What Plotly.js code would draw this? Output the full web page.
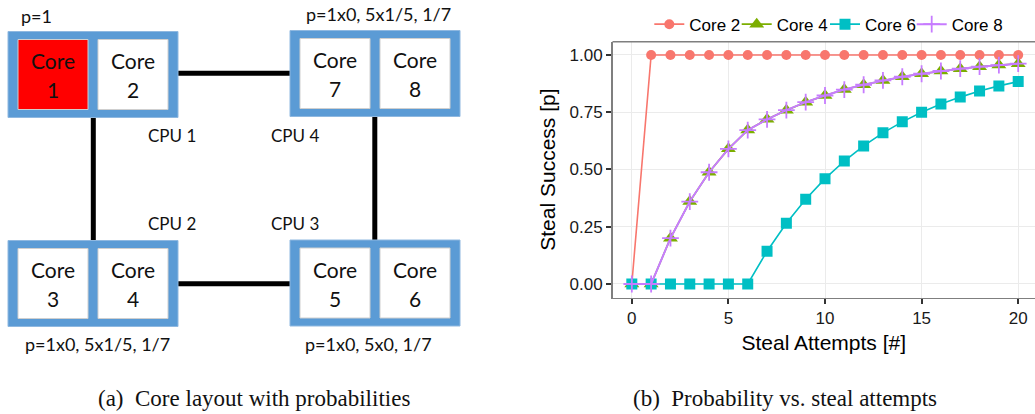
<!DOCTYPE html>
<html>
<head>
<meta charset="utf-8">
<script src="https://cdn.plot.ly/plotly-3.0.1.min.js"></script>
<style>
  html, body { margin: 0; padding: 0; background: #ffffff; }
  #fig { width: 1035px; height: 414px; }
</style>
</head>
<body>
<div id="fig"></div>
<script>
// Steal attempts on the x axis, success probability for each target core.
const attempts = [0, 1, 2, 3, 4, 5, 6, 7, 8, 9, 10, 11, 12, 13, 14, 15, 16, 17, 18, 19, 20];
const core2 = [0, 1, 1, 1, 1, 1, 1, 1, 1, 1, 1, 1, 1, 1, 1, 1, 1, 1, 1, 1, 1];
const core4 = [0, 0, 0.2, 0.36, 0.488, 0.59, 0.672, 0.719, 0.759, 0.794, 0.823, 0.849, 0.87, 0.889, 0.905, 0.918, 0.93, 0.94, 0.949, 0.956, 0.962];
const core6 = [0, 0, 0, 0, 0, 0, 0, 0.143, 0.265, 0.37, 0.46, 0.537, 0.603, 0.66, 0.708, 0.75, 0.786, 0.816, 0.843, 0.865, 0.884];
const core8 = [0, 0, 0.2, 0.36, 0.488, 0.59, 0.672, 0.719, 0.759, 0.794, 0.823, 0.849, 0.87, 0.889, 0.905, 0.918, 0.93, 0.94, 0.949, 0.956, 0.962];
const seriesNames = ['Core 2', 'Core 4', 'Core 6', 'Core 8'];
const yTicks = [0, 0.25, 0.5, 0.75, 1];
const xTicks = [0, 5, 10, 15, 20];

// Topology: four dual-core CPUs and the probability notes next to them.
const cpuNames = ['CPU 1', 'CPU 2', 'CPU 3', 'CPU 4'];
const coreNumbers = [[1, 2], [3, 4], [5, 6], [7, 8]];
const probNotes = ['p=1', 'p=1x0, 5x1/5, 1/7', 'p=1x0, 5x0, 1/7', 'p=1x0, 5x1/5, 1/7'];
const captions = ['(a)  Core layout with probabilities', '(b)  Probability vs. steal attempts'];

// ---- page geometry (pixels, origin top-left) ----
const W = 1035, H = 414;
const px = x => x / W;
const py = y => 1 - y / H;

const cpuBoxes = [          // top-left corner of each CPU package
  { x: 8,   y: 31.5 },       // CPU 1
  { x: 8,   y: 240.5 },      // CPU 2
  { x: 290, y: 240 },        // CPU 3
  { x: 290, y: 30.5 }        // CPU 4
];
const cpuLabelPos = [[171.5, 135], [171.5, 223.5], [295, 223.5], [295, 135]];
const notePos = [[36, 16], [97, 343.5], [368.5, 343.5], [378.5, 14]];
const BOX_W = 170, BOX_H = 86, CORE = 70, PAD_X = 10, PAD_Y = 8, GAP = 10;

const BLUE = '#5B9BD5';
const diagFont = 'Lato, "Noto Sans", sans-serif';

const shapes = [];
const annotations = [];

// Interconnect links (drawn first so the packages sit on top).
const links = [
  [175, 73.3, 292.5, 73.3],
  [175, 283.7, 292.5, 283.7],
  [93.3, 116, 93.3, 241],
  [374.8, 114, 374.8, 241]
];
links.forEach(([x0, y0, x1, y1]) => {
  shapes.push({ type: 'line', xref: 'paper', yref: 'paper',
    x0: px(x0), y0: py(y0), x1: px(x1), y1: py(y1),
    line: { color: '#000000', width: 5 } });
});

cpuBoxes.forEach((b, i) => {
  shapes.push({ type: 'rect', xref: 'paper', yref: 'paper',
    x0: px(b.x), y0: py(b.y), x1: px(b.x + BOX_W), y1: py(b.y + BOX_H),
    fillcolor: BLUE, line: { color: '#8fb8e0', width: 1 } });
  coreNumbers[i].forEach((n, k) => {
    const cx0 = b.x + PAD_X + k * (CORE + GAP);
    const cy0 = b.y + PAD_Y;
    shapes.push({ type: 'rect', xref: 'paper', yref: 'paper',
      x0: px(cx0), y0: py(cy0), x1: px(cx0 + CORE), y1: py(cy0 + CORE),
      fillcolor: n === 1 ? '#FF0000' : '#FFFFFF',
      line: { color: '#cfcfcf', width: 1 } });
    const cx = cx0 + CORE / 2, cy = cy0 + CORE / 2;
    annotations.push({ xref: 'paper', yref: 'paper', x: px(cx), y: py(cy - 14),
      text: 'Core', showarrow: false, xanchor: 'center', yanchor: 'middle',
      font: { family: diagFont, size: 21, color: '#111111' } });
    annotations.push({ xref: 'paper', yref: 'paper', x: px(cx), y: py(cy + 15),
      text: String(n), showarrow: false, xanchor: 'center', yanchor: 'middle',
      font: { family: diagFont, size: 21, color: '#111111' } });
  });
  annotations.push({ xref: 'paper', yref: 'paper',
    x: px(cpuLabelPos[i][0]), y: py(cpuLabelPos[i][1]),
    text: cpuNames[i], showarrow: false, xanchor: 'center', yanchor: 'middle',
    font: { family: diagFont, size: 17, color: '#111111' } });
  annotations.push({ xref: 'paper', yref: 'paper',
    x: px(notePos[i][0]), y: py(notePos[i][1]),
    text: probNotes[i], showarrow: false, xanchor: 'center', yanchor: 'middle',
    font: { family: diagFont, size: 18, color: '#111111' } });
});

// Sub-figure captions.
const capFont = { family: '"Liberation Serif", "DejaVu Serif", serif', size: 23, color: '#111111' };
annotations.push({ xref: 'paper', yref: 'paper', x: px(254), y: py(398),
  text: captions[0], showarrow: false, xanchor: 'center', yanchor: 'middle', font: capFont });
annotations.push({ xref: 'paper', yref: 'paper', x: px(785), y: py(398),
  text: captions[1], showarrow: false, xanchor: 'center', yanchor: 'middle', font: capFont });

// Top edge of the plot panel.
const PLOT_L = 612.5, PLOT_T = 41.7, PLOT_B = 297.5;
shapes.push({ type: 'line', xref: 'paper', yref: 'paper',
  x0: px(PLOT_L), y0: py(PLOT_T), x1: 1, y1: py(PLOT_T),
  line: { color: '#7f7f7f', width: 1.5 } });

// ---- line chart ----
const colors = ['#F8766D', '#7CAE00', '#00BFC4', '#C77CFF'];
const symbols = ['circle', 'triangle-up', 'square', 'cross-thin'];
const sizes = [10, 13, 11, 12];
const lineWidths = [1.6, 1.6, 1.6, 2];
const ys = [core2, core4, core6, core8];
const legendIds = ['legend', 'legend2', 'legend3', 'legend4'];

const traces = ys.map((vals, i) => ({
  type: 'scatter', mode: 'lines+markers',
  name: seriesNames[i], x: attempts, y: vals,
  legend: legendIds[i],
  line: { color: colors[i], width: lineWidths[i] },
  marker: {
    symbol: symbols[i], size: sizes[i], color: colors[i],
    line: symbols[i] === 'cross-thin' ? { color: colors[i], width: 1.8 } : { width: 0 }
  }
}));

const tickFont = { family: '"Liberation Sans", Arial, sans-serif', size: 17, color: '#1a1a1a' };
const titleFont = { family: '"Liberation Sans", Arial, sans-serif', size: 21, color: '#000000' };
const legendFont = { family: '"Liberation Sans", Arial, sans-serif', size: 17, color: '#000000' };

// One single-entry legend per series, laid out in a row above the panel.
const legendMarkerX = [669.3, 756.7, 845, 931.7];
const legendBox = xm => ({
  orientation: 'h', x: px(xm - 20), y: 0.984, xanchor: 'left', yanchor: 'top',
  font: legendFont, bgcolor: 'rgba(0,0,0,0)', itemwidth: 30
});

const layout = {
  width: W, height: H,
  margin: { l: 0, r: 0, t: 0, b: 0 },
  paper_bgcolor: '#ffffff', plot_bgcolor: '#ffffff',
  showlegend: true,
  legend: legendBox(legendMarkerX[0]),
  legend2: legendBox(legendMarkerX[1]),
  legend3: legendBox(legendMarkerX[2]),
  legend4: legendBox(legendMarkerX[3]),
  xaxis: {
    domain: [px(PLOT_L), 1], range: [-1, 20.87],
    tickvals: xTicks, ticktext: xTicks.map(String),
    showgrid: true, gridcolor: '#ebebeb', gridwidth: 1, zeroline: false,
    showline: true, linecolor: '#7f7f7f', linewidth: 1.5,
    ticks: 'outside', ticklen: 5, tickwidth: 2, tickcolor: '#333333',
    tickfont: tickFont,
    title: { text: 'Steal Attempts [#]', font: titleFont, standoff: 8 }
  },
  yaxis: {
    domain: [py(PLOT_B), py(PLOT_T)], range: [-0.059, 1.058],
    tickvals: yTicks, ticktext: yTicks.map(v => v.toFixed(2)),
    showgrid: true, gridcolor: '#ebebeb', gridwidth: 1, zeroline: false,
    showline: true, linecolor: '#7f7f7f', linewidth: 1.5,
    ticks: 'outside', ticklen: 5, tickwidth: 2, tickcolor: '#333333',
    tickfont: tickFont,
    title: { text: 'Steal Success [p]', font: titleFont, standoff: 8 }
  },
  shapes: shapes,
  annotations: annotations
};

Plotly.newPlot('fig', traces, layout, { staticPlot: true, displayModeBar: false });
</script>
</body>
</html>
